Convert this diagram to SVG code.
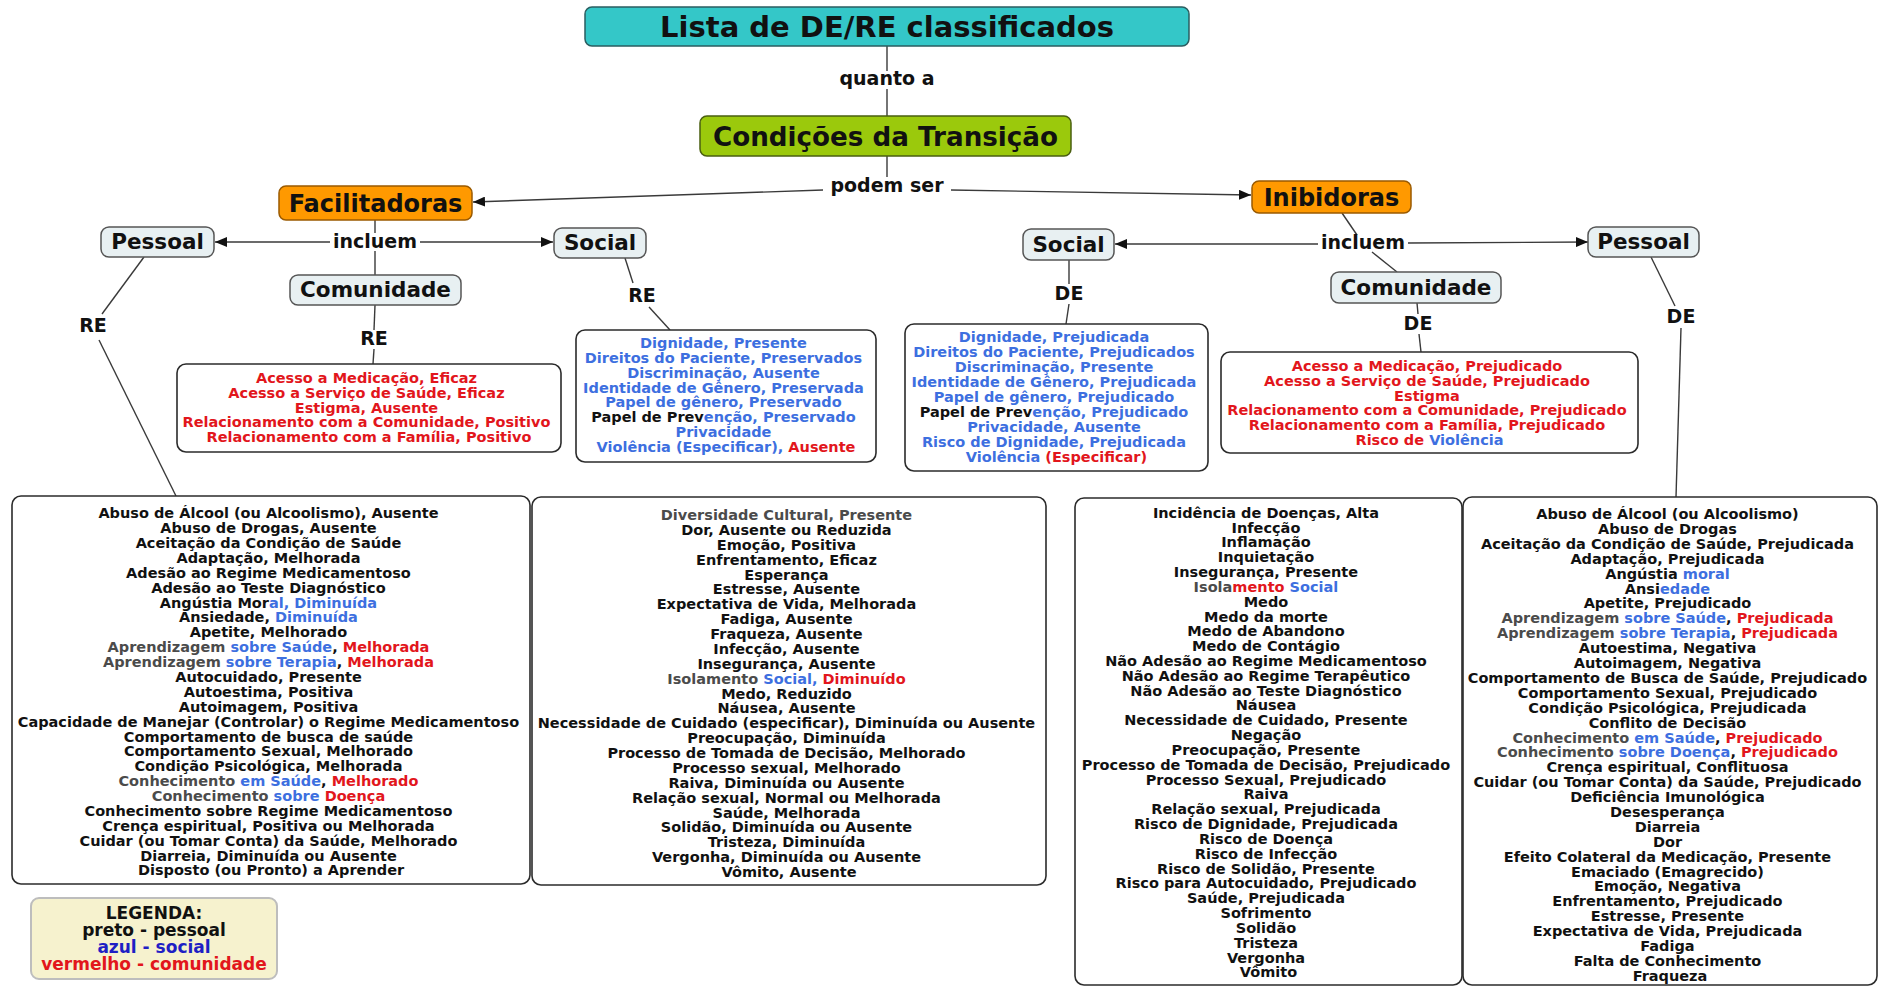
<svg xmlns="http://www.w3.org/2000/svg" width="1883" height="987" viewBox="0 0 1883 987">
  <defs>
    <style>
      .t { font-family: "DejaVu Sans", Verdana, "Liberation Sans", sans-serif; font-weight: bold; text-anchor: middle; fill: #111; }
      .body { font-size: 14.5px; }
      .lbl { font-size: 19px; }
      .node { font-size: 21.5px; }
      .bl { fill: #3d6fe0; }
      .rd { fill: #e2161c; }
      .gy { fill: #4b4b4b; }
      .k { fill: #111; }
      .ln { stroke: #3a3a3a; stroke-width: 1.4; fill: none; }
      .box { fill: #ffffff; stroke: #2b2b2b; stroke-width: 1.6; }
      .cat { fill: #e8f0f2; stroke: #555; stroke-width: 1.5; }
      .grp { fill: #ff9900; stroke: #9a5a00; stroke-width: 1.5; }
    </style>
    <marker id="arr" markerWidth="12" markerHeight="10" refX="12" refY="5" orient="auto" markerUnits="userSpaceOnUse">
      <path d="M0,0 L12,5 L0,10 z" fill="#111"/>
    </marker>
  </defs>

  <rect width="1883" height="987" fill="#ffffff"/>

  <!-- connectors -->
  <g id="connectors">
    <line class="ln" x1="887" y1="46" x2="887" y2="71"/>
    <line class="ln" x1="887" y1="89" x2="887" y2="116"/>
    <line class="ln" x1="887" y1="156" x2="887" y2="177"/>
    <line class="ln" x1="823" y1="190" x2="473" y2="202" marker-end="url(#arr)"/>
    <line class="ln" x1="951" y1="190" x2="1251" y2="195" marker-end="url(#arr)"/>

    <!-- Facilitadoras branch -->
    <line class="ln" x1="375" y1="220" x2="375" y2="233"/>
    <line class="ln" x1="375" y1="251" x2="375" y2="275"/>
    <line class="ln" x1="330" y1="242" x2="215" y2="242" marker-end="url(#arr)"/>
    <line class="ln" x1="420" y1="242" x2="553" y2="242" marker-end="url(#arr)"/>
    <line class="ln" x1="144" y1="257" x2="102" y2="314"/>
    <line class="ln" x1="99" y1="340" x2="176" y2="496"/>
    <line class="ln" x1="375" y1="305" x2="374" y2="330"/>
    <line class="ln" x1="374" y1="349" x2="373" y2="364"/>
    <line class="ln" x1="625" y1="258" x2="633" y2="283"/>
    <line class="ln" x1="649" y1="307" x2="670" y2="330"/>

    <!-- Inibidoras branch -->
    <line class="ln" x1="1342" y1="213" x2="1357" y2="235"/>
    <line class="ln" x1="1372" y1="252" x2="1397" y2="272"/>
    <line class="ln" x1="1318" y1="244" x2="1115" y2="244" marker-end="url(#arr)"/>
    <line class="ln" x1="1408" y1="243" x2="1588" y2="242" marker-end="url(#arr)"/>
    <line class="ln" x1="1069" y1="260" x2="1069" y2="284"/>
    <line class="ln" x1="1069" y1="304" x2="1066" y2="324"/>
    <line class="ln" x1="1417" y1="303" x2="1418" y2="314"/>
    <line class="ln" x1="1419" y1="334" x2="1421" y2="352"/>
    <line class="ln" x1="1651" y1="257" x2="1675" y2="306"/>
    <line class="ln" x1="1681" y1="328" x2="1676" y2="497"/>
  </g>

  <!-- linking phrases -->
  <g id="labels">
    <text class="t lbl" x="887" y="85">quanto a</text>
    <text class="t lbl" x="887" y="192">podem ser</text>
    <text class="t lbl" x="375" y="247.5">incluem</text>
    <text class="t lbl" x="1363" y="248.5">incluem</text>
    <text class="t lbl" x="93" y="332">RE</text>
    <text class="t lbl" x="374" y="345">RE</text>
    <text class="t lbl" x="642" y="302">RE</text>
    <text class="t lbl" x="1069" y="300">DE</text>
    <text class="t lbl" x="1418" y="330">DE</text>
    <text class="t lbl" x="1681" y="323">DE</text>
  </g>

  <g id="title">
    <rect x="585" y="7" width="604" height="39" rx="7" fill="#34c7c8" stroke="#2a5e60" stroke-width="1.5"/>
    <text class="t" x="887" y="37" font-size="29">Lista de DE/RE classificados</text>
  </g>

  <g id="condicoes">
    <rect x="700" y="116" width="371" height="40" rx="7" fill="#9bc90c" stroke="#4a5f10" stroke-width="1.5"/>
    <text class="t" x="885.5" y="145.5" font-size="26.2">Condições da Transição</text>
  </g>

  <g id="facilitadoras">
    <rect class="grp" x="279" y="186" width="193" height="34" rx="7"/>
    <text class="t" x="375.5" y="211.5" font-size="24">Facilitadoras</text>
  </g>

  <g id="inibidoras">
    <rect class="grp" x="1252" y="181" width="159" height="32" rx="7"/>
    <text class="t" x="1331.5" y="205.5" font-size="24">Inibidoras</text>
  </g>

  <g id="fac-pessoal">
    <rect class="cat" x="101" y="227" width="113" height="30" rx="8"/>
    <text class="t node" x="157.5" y="249">Pessoal</text>
  </g>
  <g id="fac-social">
    <rect class="cat" x="554" y="228" width="92" height="30" rx="8"/>
    <text class="t node" x="600" y="249.5">Social</text>
  </g>
  <g id="fac-comunidade">
    <rect class="cat" x="290" y="275" width="171" height="30" rx="8"/>
    <text class="t node" x="375.5" y="297">Comunidade</text>
  </g>

  <g id="ini-social">
    <rect class="cat" x="1023" y="229" width="91" height="31" rx="8"/>
    <text class="t node" x="1068.5" y="252">Social</text>
  </g>
  <g id="ini-pessoal">
    <rect class="cat" x="1588" y="227" width="111" height="30" rx="8"/>
    <text class="t node" x="1643.5" y="249">Pessoal</text>
  </g>
  <g id="ini-comunidade">
    <rect class="cat" x="1331" y="272" width="170" height="31" rx="8"/>
    <text class="t node" x="1416" y="295">Comunidade</text>
  </g>

  <!-- RE: comunidade -->
  <g id="re-comunidade">
    <rect class="box" x="177" y="364" width="384" height="88" rx="9"/>
    <text class="t body rd" x="369" y="383">
      <tspan x="369" dy="0">Acesso a Medicação, Eficaz</tspan>
      <tspan x="369" dy="14.8">Acesso a Serviço de Saúde, Eficaz</tspan>
      <tspan x="369" dy="14.8">Estigma, Ausente</tspan>
      <tspan x="369" dy="14.8">Relacionamento com a Comunidade, Positivo</tspan>
      <tspan x="369" dy="14.8">Relacionamento com a Família, Positivo</tspan>
    </text>
  </g>

  <!-- RE: social -->
  <g id="re-social">
    <rect class="box" x="576" y="330" width="300" height="132" rx="9"/>
    <text class="t body bl" x="726" y="348">
      <tspan x="726" dy="0">Dignidade, Presente</tspan>
      <tspan x="726" dy="14.86">Direitos do Paciente, Preservados</tspan>
      <tspan x="726" dy="14.86">Discriminação, Ausente</tspan>
      <tspan x="726" dy="14.86">Identidade de Gênero, Preservada</tspan>
      <tspan x="726" dy="14.86">Papel de gênero, Preservado</tspan>
      <tspan x="726" dy="14.86"><tspan class="k">Papel de Prev</tspan>enção, Preservado</tspan>
      <tspan x="726" dy="14.86">Privacidade</tspan>
      <tspan x="726" dy="14.86">Violência (Especificar), <tspan class="rd">Ausente</tspan></tspan>
    </text>
  </g>

  <!-- DE: social -->
  <g id="de-social">
    <rect class="box" x="905" y="324" width="303" height="147" rx="9"/>
    <text class="t body bl" x="1056.5" y="342">
      <tspan x="1056.5" dy="0">Dignidade, Prejudicada</tspan>
      <tspan x="1056.5" dy="15">Direitos do Paciente, Prejudicados</tspan>
      <tspan x="1056.5" dy="15">Discriminação, Presente</tspan>
      <tspan x="1056.5" dy="15">Identidade de Gênero, Prejudicada</tspan>
      <tspan x="1056.5" dy="15">Papel de gênero, Prejudicado</tspan>
      <tspan x="1056.5" dy="15"><tspan class="k">Papel de Prev</tspan>enção, Prejudicado</tspan>
      <tspan x="1056.5" dy="15">Privacidade, Ausente</tspan>
      <tspan x="1056.5" dy="15">Risco de Dignidade, Prejudicada</tspan>
      <tspan x="1056.5" dy="15">Violência <tspan class="rd">(Especificar)</tspan></tspan>
    </text>
  </g>

  <!-- DE: comunidade -->
  <g id="de-comunidade">
    <rect class="box" x="1221" y="352" width="417" height="101" rx="9"/>
    <text class="t body rd" x="1429.5" y="371">
      <tspan x="1429.5" dy="0">Acesso a Medicação, Prejudicado</tspan>
      <tspan x="1429.5" dy="14.8">Acesso a Serviço de Saúde, Prejudicado</tspan>
      <tspan x="1429.5" dy="14.8">Estigma</tspan>
      <tspan x="1429.5" dy="14.8">Relacionamento com a Comunidade, Prejudicado</tspan>
      <tspan x="1429.5" dy="14.8">Relacionamento com a Família, Prejudicado</tspan>
      <tspan x="1429.5" dy="14.8">Risco de <tspan class="bl">Violência</tspan></tspan>
    </text>
  </g>

  <!-- RE: pessoal (A-D) -->
  <g id="re-pessoal-1">
    <rect class="box" x="12" y="496" width="518" height="388" rx="9"/>
    <text class="t body" x="271" y="518.3">
      <tspan x="271" dy="0">Abuso de Álcool (ou Alcoolismo), Ausente</tspan>
      <tspan x="271" dy="14.88">Abuso de Drogas, Ausente</tspan>
      <tspan x="271" dy="14.88">Aceitação da Condição de Saúde</tspan>
      <tspan x="271" dy="14.88">Adaptação, Melhorada</tspan>
      <tspan x="271" dy="14.88">Adesão ao Regime Medicamentoso</tspan>
      <tspan x="271" dy="14.88">Adesão ao Teste Diagnóstico</tspan>
      <tspan x="271" dy="14.88">Angústia Mor<tspan class="bl">al, Diminuída</tspan></tspan>
      <tspan x="271" dy="14.88">Ansiedade, <tspan class="bl">Diminuída</tspan></tspan>
      <tspan x="271" dy="14.88">Apetite, Melhorado</tspan>
      <tspan x="271" dy="14.88"><tspan class="gy">Aprendizagem </tspan><tspan class="bl">sobre Saúde</tspan>, <tspan class="rd">Melhorada</tspan></tspan>
      <tspan x="271" dy="14.88"><tspan class="gy">Aprendizagem </tspan><tspan class="bl">sobre Terapia</tspan>, <tspan class="rd">Melhorada</tspan></tspan>
      <tspan x="271" dy="14.88">Autocuidado, Presente</tspan>
      <tspan x="271" dy="14.88">Autoestima, Positiva</tspan>
      <tspan x="271" dy="14.88">Autoimagem, Positiva</tspan>
      <tspan x="271" dy="14.88">Capacidade de Manejar (Controlar) o Regime Medicamentoso</tspan>
      <tspan x="271" dy="14.88">Comportamento de busca de saúde</tspan>
      <tspan x="271" dy="14.88">Comportamento Sexual, Melhorado</tspan>
      <tspan x="271" dy="14.88">Condição Psicológica, Melhorada</tspan>
      <tspan x="271" dy="14.88"><tspan class="gy">Conhecimento </tspan><tspan class="bl">em Saúde</tspan>, <tspan class="rd">Melhorado</tspan></tspan>
      <tspan x="271" dy="14.88"><tspan class="gy">Conhecimento </tspan><tspan class="bl">sobre </tspan><tspan class="rd">Doença</tspan></tspan>
      <tspan x="271" dy="14.88">Conhecimento sobre Regime Medicamentoso</tspan>
      <tspan x="271" dy="14.88">Crença espiritual, Positiva ou Melhorada</tspan>
      <tspan x="271" dy="14.88">Cuidar (ou Tomar Conta) da Saúde, Melhorado</tspan>
      <tspan x="271" dy="14.88">Diarreia, Diminuída ou Ausente</tspan>
      <tspan x="271" dy="14.88">Disposto (ou Pronto) a Aprender</tspan>
    </text>
  </g>

  <!-- RE: pessoal (D-V) -->
  <g id="re-pessoal-2">
    <rect class="box" x="532" y="497" width="514" height="388" rx="9"/>
    <text class="t body" x="789" y="520">
      <tspan x="789" dy="0" class="gy">Diversidade Cultural, Presente</tspan>
      <tspan x="789" dy="14.875">Dor, Ausente ou Reduzida</tspan>
      <tspan x="789" dy="14.875">Emoção, Positiva</tspan>
      <tspan x="789" dy="14.875">Enfrentamento, Eficaz</tspan>
      <tspan x="789" dy="14.875">Esperança</tspan>
      <tspan x="789" dy="14.875">Estresse, Ausente</tspan>
      <tspan x="789" dy="14.875">Expectativa de Vida, Melhorada</tspan>
      <tspan x="789" dy="14.875">Fadiga, Ausente</tspan>
      <tspan x="789" dy="14.875">Fraqueza, Ausente</tspan>
      <tspan x="789" dy="14.875">Infecção, Ausente</tspan>
      <tspan x="789" dy="14.875">Insegurança, Ausente</tspan>
      <tspan x="789" dy="14.875"><tspan class="gy">Isolamento </tspan><tspan class="bl">Social, </tspan><tspan class="rd">Diminuído</tspan></tspan>
      <tspan x="789" dy="14.875">Medo, Reduzido</tspan>
      <tspan x="789" dy="14.875">Náusea, Ausente</tspan>
      <tspan x="789" dy="14.875">Necessidade de Cuidado (especificar), Diminuída ou Ausente</tspan>
      <tspan x="789" dy="14.875">Preocupação, Diminuída</tspan>
      <tspan x="789" dy="14.875">Processo de Tomada de Decisão, Melhorado</tspan>
      <tspan x="789" dy="14.875">Processo sexual, Melhorado</tspan>
      <tspan x="789" dy="14.875">Raiva, Diminuída ou Ausente</tspan>
      <tspan x="789" dy="14.875">Relação sexual, Normal ou Melhorada</tspan>
      <tspan x="789" dy="14.875">Saúde, Melhorada</tspan>
      <tspan x="789" dy="14.875">Solidão, Diminuída ou Ausente</tspan>
      <tspan x="789" dy="14.875">Tristeza, Diminuída</tspan>
      <tspan x="789" dy="14.875">Vergonha, Diminuída ou Ausente</tspan>
      <tspan x="789" dy="14.875">Vômito, Ausente</tspan>
    </text>
  </g>

  <!-- DE: pessoal (I-V) -->
  <g id="de-pessoal-2">
    <rect class="box" x="1075" y="498" width="387" height="487" rx="9"/>
    <text class="t body" x="1268.5" y="517.7">
      <tspan x="1268.5" dy="0">Incidência de Doenças, Alta</tspan>
      <tspan x="1268.5" dy="14.83">Infecção</tspan>
      <tspan x="1268.5" dy="14.83">Inflamação</tspan>
      <tspan x="1268.5" dy="14.83">Inquietação</tspan>
      <tspan x="1268.5" dy="14.83">Insegurança, Presente</tspan>
      <tspan x="1268.5" dy="14.83"><tspan class="gy">Isola</tspan><tspan class="rd">mento</tspan><tspan class="bl"> Social</tspan></tspan>
      <tspan x="1268.5" dy="14.83">Medo</tspan>
      <tspan x="1268.5" dy="14.83">Medo da morte</tspan>
      <tspan x="1268.5" dy="14.83">Medo de Abandono</tspan>
      <tspan x="1268.5" dy="14.83">Medo de Contágio</tspan>
      <tspan x="1268.5" dy="14.83">Não Adesão ao Regime Medicamentoso</tspan>
      <tspan x="1268.5" dy="14.83">Não Adesão ao Regime Terapêutico</tspan>
      <tspan x="1268.5" dy="14.83">Não Adesão ao Teste Diagnóstico</tspan>
      <tspan x="1268.5" dy="14.83">Náusea</tspan>
      <tspan x="1268.5" dy="14.83">Necessidade de Cuidado, Presente</tspan>
      <tspan x="1268.5" dy="14.83">Negação</tspan>
      <tspan x="1268.5" dy="14.83">Preocupação, Presente</tspan>
      <tspan x="1268.5" dy="14.83">Processo de Tomada de Decisão, Prejudicado</tspan>
      <tspan x="1268.5" dy="14.83">Processo Sexual, Prejudicado</tspan>
      <tspan x="1268.5" dy="14.83">Raiva</tspan>
      <tspan x="1268.5" dy="14.83">Relação sexual, Prejudicada</tspan>
      <tspan x="1268.5" dy="14.83">Risco de Dignidade, Prejudicada</tspan>
      <tspan x="1268.5" dy="14.83">Risco de Doença</tspan>
      <tspan x="1268.5" dy="14.83">Risco de Infecção</tspan>
      <tspan x="1268.5" dy="14.83">Risco de Solidão, Presente</tspan>
      <tspan x="1268.5" dy="14.83">Risco para Autocuidado, Prejudicado</tspan>
      <tspan x="1268.5" dy="14.83">Saúde, Prejudicada</tspan>
      <tspan x="1268.5" dy="14.83">Sofrimento</tspan>
      <tspan x="1268.5" dy="14.83">Solidão</tspan>
      <tspan x="1268.5" dy="14.83">Tristeza</tspan>
      <tspan x="1268.5" dy="14.83">Vergonha</tspan>
      <tspan x="1268.5" dy="14.83">Vômito</tspan>
    </text>
  </g>

  <!-- DE: pessoal (A-F) -->
  <g id="de-pessoal-1">
    <rect class="box" x="1463" y="497" width="414" height="488" rx="9"/>
    <text class="t body" x="1670" y="519">
      <tspan x="1670" dy="0">Abuso de Álcool (ou Alcoolismo)</tspan>
      <tspan x="1670" dy="14.9">Abuso de Drogas</tspan>
      <tspan x="1670" dy="14.9">Aceitação da Condição de Saúde, Prejudicada</tspan>
      <tspan x="1670" dy="14.9">Adaptação, Prejudicada</tspan>
      <tspan x="1670" dy="14.9">Angústia <tspan class="bl">moral</tspan></tspan>
      <tspan x="1670" dy="14.9">Ansi<tspan class="bl">edade</tspan></tspan>
      <tspan x="1670" dy="14.9">Apetite, Prejudicado</tspan>
      <tspan x="1670" dy="14.9"><tspan class="gy">Aprendizagem </tspan><tspan class="bl">sobre Saúde</tspan>, <tspan class="rd">Prejudicada</tspan></tspan>
      <tspan x="1670" dy="14.9"><tspan class="gy">Aprendizagem </tspan><tspan class="bl">sobre Terapia</tspan>, <tspan class="rd">Prejudicada</tspan></tspan>
      <tspan x="1670" dy="14.9">Autoestima, Negativa</tspan>
      <tspan x="1670" dy="14.9">Autoimagem, Negativa</tspan>
      <tspan x="1670" dy="14.9">Comportamento de Busca de Saúde, Prejudicado</tspan>
      <tspan x="1670" dy="14.9">Comportamento Sexual, Prejudicado</tspan>
      <tspan x="1670" dy="14.9">Condição Psicológica, Prejudicada</tspan>
      <tspan x="1670" dy="14.9">Conflito de Decisão</tspan>
      <tspan x="1670" dy="14.9"><tspan class="gy">Conhecimento </tspan><tspan class="bl">em Saúde</tspan>, <tspan class="rd">Prejudicado</tspan></tspan>
      <tspan x="1670" dy="14.9"><tspan class="gy">Conhecimento </tspan><tspan class="bl">sobre Doença</tspan>, <tspan class="rd">Prejudicado</tspan></tspan>
      <tspan x="1670" dy="14.9">Crença espiritual, Conflituosa</tspan>
      <tspan x="1670" dy="14.9">Cuidar (ou Tomar Conta) da Saúde, Prejudicado</tspan>
      <tspan x="1670" dy="14.9">Deficiência Imunológica</tspan>
      <tspan x="1670" dy="14.9">Desesperança</tspan>
      <tspan x="1670" dy="14.9">Diarreia</tspan>
      <tspan x="1670" dy="14.9">Dor</tspan>
      <tspan x="1670" dy="14.9">Efeito Colateral da Medicação, Presente</tspan>
      <tspan x="1670" dy="14.9">Emaciado (Emagrecido)</tspan>
      <tspan x="1670" dy="14.9">Emoção, Negativa</tspan>
      <tspan x="1670" dy="14.9">Enfrentamento, Prejudicado</tspan>
      <tspan x="1670" dy="14.9">Estresse, Presente</tspan>
      <tspan x="1670" dy="14.9">Expectativa de Vida, Prejudicada</tspan>
      <tspan x="1670" dy="14.9">Fadiga</tspan>
      <tspan x="1670" dy="14.9">Falta de Conhecimento</tspan>
      <tspan x="1670" dy="14.9">Fraqueza</tspan>
    </text>
  </g>

  <!-- colour key -->
  <g id="legenda">
    <rect x="31" y="898" width="246" height="81" rx="8" fill="#f6f2ce" stroke="#bdbdbd" stroke-width="2"/>
    <text class="t" x="154" y="918.5" font-size="17">LEGENDA:</text>
    <text class="t" x="154" y="935.5" font-size="17">preto - pessoal</text>
    <text class="t" x="154" y="952.5" font-size="17" style="fill:#1f1fc4">azul - social</text>
    <text class="t" x="154" y="969.5" font-size="17" style="fill:#e2161c">vermelho - comunidade</text>
  </g>
</svg>
